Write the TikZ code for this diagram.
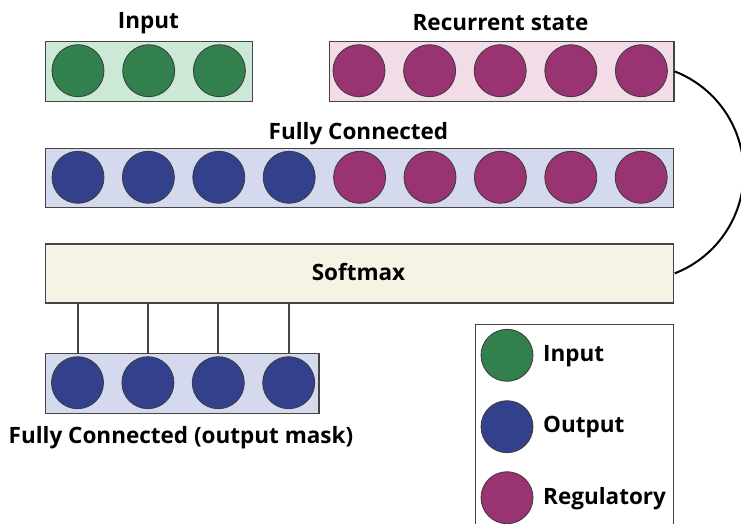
\documentclass[tikz,border=0pt]{standalone}
\usepackage{fontspec}
\setmainfont{Open Sans}
\definecolor{ingreen}{HTML}{31804E}
\definecolor{ingreenbg}{HTML}{CCE8D6}
\definecolor{regmag}{HTML}{993372}
\definecolor{regbg}{HTML}{F2DCE8}
\definecolor{outblue}{HTML}{33418C}
\definecolor{bluebg}{HTML}{D4D9EE}
\definecolor{softbg}{HTML}{F5F3E4}
\definecolor{boxline}{HTML}{444444}
\definecolor{circline}{HTML}{3A3A3A}
\begin{document}
\begin{tikzpicture}[x=1pt,y=-1pt,
  box/.style={draw=boxline, line width=1.4pt, inner sep=0pt, anchor=north west},
  unit/.style={circle, draw=circline, line width=0.8pt, minimum size=52pt, inner sep=0pt},
  lbl/.style={font=\bfseries\fontsize{22.5}{27}\selectfont, anchor=base, inner sep=0pt},
  leglbl/.style={font=\bfseries\fontsize{22.5}{27}\selectfont, anchor=base west, inner sep=0pt},
  conn/.style={draw=boxline, line width=2pt},
  loop/.style={draw=black, line width=2pt}]
\useasboundingbox (0,0) rectangle (741,524);

% Input
\node[lbl] (tin) at (148.5,28.5) {Input};
\node[box, fill=ingreenbg, minimum width=207pt, minimum height=60pt] (inbox) at (45,40.7) {};
\foreach \i in {0,1,2} \node[unit, fill=ingreen] (in\i) at (78+70.7*\i,70.7) {};

% Recurrent state
\node[lbl] (trec) at (500.5,30.5) {Recurrent state};
\node[box, fill=regbg, minimum width=344.8pt, minimum height=60pt] (rec) at (328.5,40.7) {};
\foreach \i in {0,...,4} \node[unit, fill=regmag] (r\i) at (359+70.6*\i,70.7) {};

% Fully connected
\node[lbl] (tfc) at (358.5,139.3) {Fully Connected};
\node[box, fill=bluebg, minimum width=627.5pt, minimum height=59.5pt] (fc) at (45,147.5) {};
\foreach \i in {0,...,3} \node[unit, fill=outblue] (f\i) at (78+70.4*\i,177.3) {};
\foreach \i in {4,...,8} \node[unit, fill=regmag] (f\i) at (78+70.4*\i,177.3) {};

% Softmax
\node[box, fill=softbg, minimum width=627.5pt, minimum height=59pt] (soft) at (45,243.3) {};
\node[lbl] (tsoft) at (358.5,280) {Softmax};

% Output mask
\node[box, fill=bluebg, minimum width=273.3pt, minimum height=60pt] (obox) at (45,352.7) {};
\foreach \i in {0,...,3} \node[unit, fill=outblue] (o\i) at (77.5+70.4*\i,382.7) {};
\foreach \i in {0,...,3} \draw[conn] (soft.south -| o\i) -- (obox.north -| o\i);
\node[lbl] (tout) at (181,443.3) {Fully Connected (output mask)};

% recurrent loop
\draw[loop] (rec.east) arc[start angle=-68.7, end angle=68.7, radius=108.4];

% Legend
\node[box, fill=white, minimum width=198pt, minimum height=230pt] (legend) at (475,324) {};
\node[unit, fill=ingreen] (lg1) at (507,355.3) {};
\node[unit, fill=outblue] (lg2) at (507,426.7) {};
\node[unit, fill=regmag] (lg3) at (507,497.7) {};
\node[leglbl] (ll1) at (543,361.7) {Input};
\node[leglbl] (ll2) at (543,432.7) {Output};
\node[leglbl] (ll3) at (543,504) {Regulatory};
\end{tikzpicture}
\end{document}
